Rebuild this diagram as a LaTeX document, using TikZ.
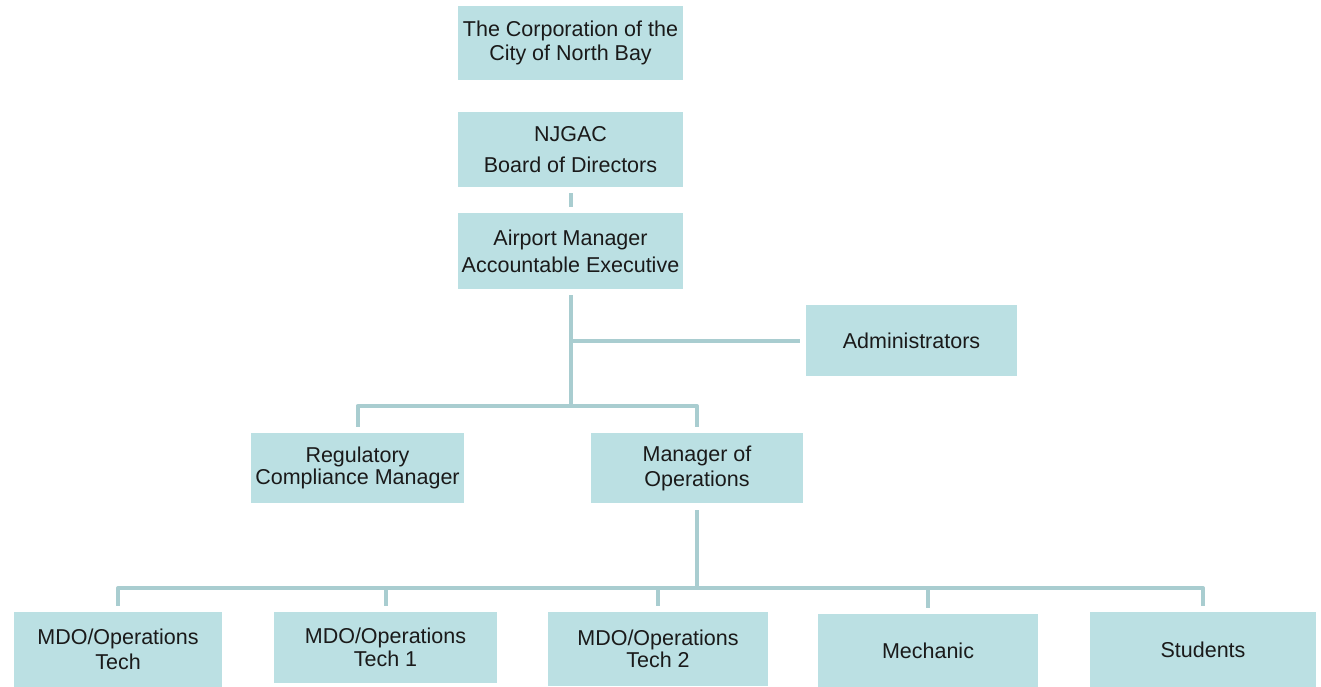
\documentclass[tikz,border=0pt]{standalone}
\usepackage{fontspec}
\setmainfont{Liberation Sans}
\definecolor{boxfill}{HTML}{BBE0E3}
\definecolor{linecol}{HTML}{A9CDD0}
\definecolor{txt}{HTML}{1A1A1A}
\begin{document}
\begin{tikzpicture}[x=1pt,y=-1pt,
  box/.style={rectangle,fill=boxfill,draw=none,inner sep=0pt,align=center,
    text=txt,font=\fontsize{21.5}{24}\selectfont},
  conn/.style={draw=linecol,line width=4pt,line join=round}]
\useasboundingbox (0,0) rectangle (1321,687);
\fill[white] (0,0) rectangle (1321,687);
% nodes
\node[box,minimum width=225,minimum height=74] (corp) at (570.5,43) {The Corporation of the\\City of North Bay};
\node[box,minimum width=225,minimum height=75] (njgac) at (570.5,149.5) {NJGAC\\[7pt]Board of Directors};
\node[box,minimum width=225,minimum height=76] (apm) at (570.5,251) {Airport Manager\\[3pt]Accountable Executive};
\node[box,minimum width=211,minimum height=71] (adm) at (911.5,340.5) {Administrators};
\node[box,minimum width=213,minimum height=70] (reg) at (357.5,468) {Regulatory\\[-2pt]Compliance Manager};
\node[box,minimum width=212,minimum height=70] (mgr) at (697,468) {Manager of\\[1pt]Operations};
\node[box,minimum width=208,minimum height=75] (t0) at (118,649.5) {MDO/Operations\\[1pt]Tech};
\node[box,minimum width=223,minimum height=71] (t1) at (385.5,647.5) {MDO/Operations\\[-1pt]Tech 1};
\node[box,minimum width=220,minimum height=74] (t2) at (658,649) {MDO/Operations\\[-2pt]Tech 2};
\node[box,minimum width=220,minimum height=73] (mech) at (928,650.5) {Mechanic};
\node[box,minimum width=226,minimum height=75] (stu) at (1203,649.5) {Students};
% bus coordinates
\coordinate (b1) at (570.5,406);
\coordinate (b2) at (697,588);
% connectors
\draw[conn] ([yshift=-6pt]njgac.south) -- ([yshift=6pt]apm.north);
\draw[conn] ([yshift=-6pt]apm.south) -- (b1);
\draw[conn] (apm.south |- adm.west) -- ([xshift=-6pt]adm.west);
\draw[conn] ([yshift=6pt]reg.north) |- (b1) -| ([yshift=6pt]mgr.north);
\draw[conn] ([yshift=-7pt]mgr.south) -- (b2);
\draw[conn] ([yshift=6pt]t0.north) |- (b2) -| ([yshift=6pt]stu.north);
\draw[conn] ([yshift=6pt]t1.north) -- (t1.north |- b2);
\draw[conn] ([yshift=6pt]t2.north) -- (t2.north |- b2);
\draw[conn] ([yshift=6pt]mech.north) -- (mech.north |- b2);
\end{tikzpicture}
\end{document}
